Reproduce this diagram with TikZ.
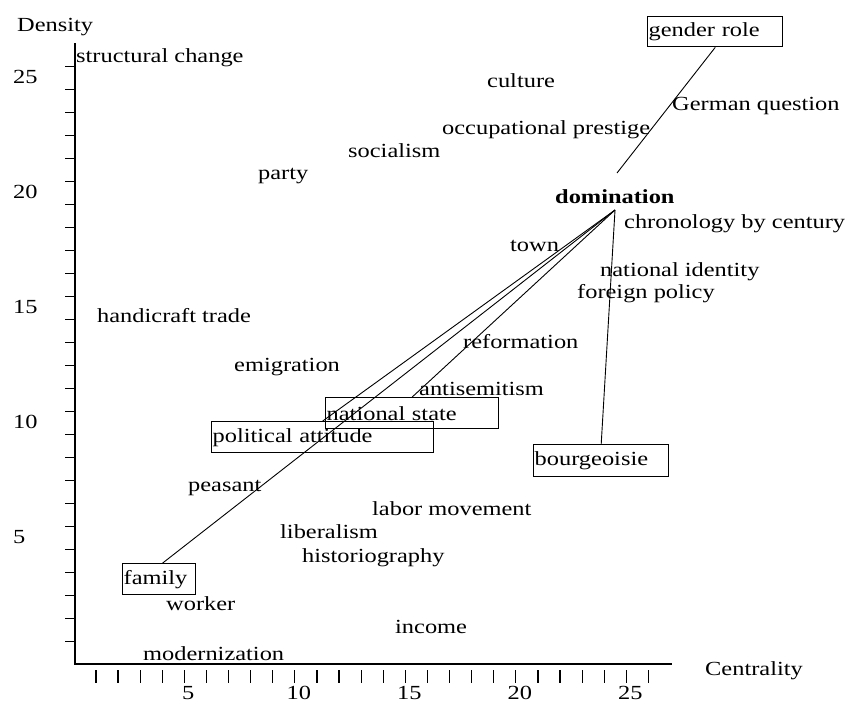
\documentclass[tikz,border=0pt]{standalone}
\usepackage{fontspec}
\setmainfont{Liberation Serif}[FakeStretch=1.22]
\tikzset{
	lbl/.style={anchor=base west,inner sep=0pt},
	tagbox/.style={draw,line width=1.4pt,anchor=north west,inner xsep=1pt,inner ysep=0pt,align=left,minimum height=31pt},
	link/.style={line width=0.9pt},
}
\begin{document}
\begin{tikzpicture}[x=1pt,y=-1pt,font=\fontsize{20pt}{24pt}\selectfont]
		\fill[white] (0,0)rectangle(850,704);
		\useasboundingbox (0,0)rectangle(850,704);
		\draw[line width=1.6pt] (75,43)--(75,664)--(672,664);
		\foreach \d in{0,...,25}{
			\draw[line width=1.2pt] (65,{641.7-23*\d})--(75,{641.7-23*\d});
		}
		\foreach \c in{1,...,26}{
			\draw[line width=1.2pt] ({73.8+22.1*\c},670)--({73.8+22.1*\c},683);
		}
		\foreach \v/\p in{25/83,20/198,15/313,10/428,5/543}{
			\node (y\v) at(13,\p)[lbl]{\v};
		}
		\foreach \v in{5,10,15,20,25}{
			\node (x\v) at({77.8+22.1*\v},699)[anchor=base,inner sep=0pt]{\v};
		}
		\node (density) at(17,31)[lbl]{Density};
		\node (centrality) at(705,675)[lbl]{Centrality};
		\node (strucchange) at(76,62)[lbl]{structural change};
		\node (culture) at(487,87)[lbl]{culture};
		\node (germanq) at(672,110)[lbl]{German question};
		\node (occprestige) at(442,134)[lbl]{occupational prestige};
		\node (socialism) at(348,157)[lbl]{socialism};
		\node (party) at(258,179)[lbl]{party};
		\node (domination) at(555,203)[lbl]{\textbf{domination}};
		\node (chronology) at(624,228)[lbl]{chronology by century};
		\node (town) at(510,251)[lbl]{town};
		\node (natidentity) at(600,276)[lbl]{national identity};
		\node (foreignpol) at(577,298)[lbl]{foreign policy};
		\node (handicraft) at(97,322)[lbl]{handicraft trade};
		\node (reformation) at(463,348)[lbl]{reformation};
		\node (emigration) at(234,371)[lbl]{emigration};
		\node (antisemitism) at(419,395)[lbl]{antisemitism};
		\node (peasant) at(188,491)[lbl]{peasant};
		\node (labormov) at(372,515)[lbl]{labor movement};
		\node (liberalism) at(280,538)[lbl]{liberalism};
		\node (historiography) at(302,562)[lbl]{historiography};
		\node (worker) at(166,610)[lbl]{worker};
		\node (income) at(395,633)[lbl]{income};
		\node (modernization) at(143,660)[lbl]{modernization};
		\node (genderrole) at(647,16)[tagbox,text width=133pt,minimum height=30pt]{gender role};
		\node (nationalstate) at(325,397)[tagbox,text width=171pt]{national state};
		\node (politicalattitude) at(211,421)[tagbox,text width=220pt]{political attitude};
		\node (bourgeoisie) at(533,444)[tagbox,text width=133pt,minimum height=32pt]{bourgeoisie};
		\node (family) at(122,563)[tagbox,text width=71pt]{family};
		\coordinate (apex) at(615,210);
		\coordinate (domtop) at(617,173);
		\draw[link] ([xshift=3.5pt]family.north)--(apex);
		\draw[link] (politicalattitude.north)--(apex);
		\draw[link] (nationalstate.north)--(apex);
		\draw[link] (bourgeoisie.north)--(apex);
		\draw[link] (genderrole.south)--(domtop);
	\end{tikzpicture}
\end{document}
